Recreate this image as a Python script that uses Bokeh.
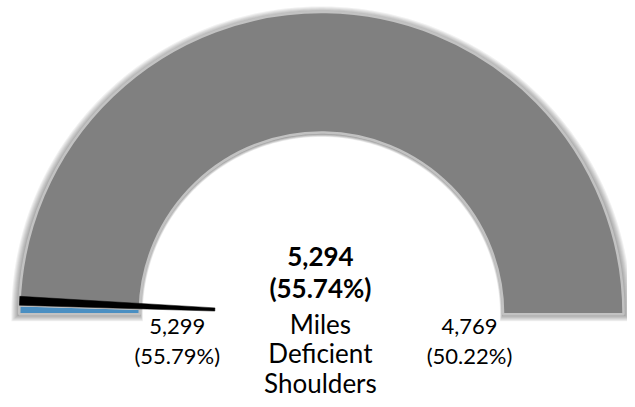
import numpy as np
from bokeh.plotting import figure
from bokeh.models import Range1d
from bokeh.core.properties import value
from bokeh.embed import file_html
from bokeh.resources import INLINE

# ---- data ----
gauge_min_value = 5299      # left end of the gauge
gauge_min_pct = "55.79%"
gauge_max_value = 4769      # right end of the gauge
gauge_max_pct = "50.22%"
current_value = 5294
current_pct = "55.74%"
center_caption = ["Miles", "Deficient", "Shoulders"]

W, H = 627, 399
p = figure(width=W, height=H, output_backend="svg", toolbar_location=None,
           x_range=Range1d(0, 635), y_range=Range1d(0, 407), min_border=0)
p.axis.visible = False
p.grid.visible = False
p.outline_line_color = None
p.background_fill_color = "white"
p.border_fill_color = "white"

cx, cy = 325, 87
R_out, R_in = 306, 184

frac = (gauge_min_value - current_value) / (gauge_min_value - gauge_max_value)
val_angle = np.pi - frac * np.pi
deg = np.pi / 180.0

# soft shadow
for k in range(1, 9):
    th = np.linspace(0, np.pi, 240)
    ox = cx + (R_out + k) * np.cos(th)
    oy = cy + (R_out + k) * np.sin(th)
    ri = R_in - k * 0.4
    ix = cx + ri * np.cos(th[::-1])
    iy = cy + ri * np.sin(th[::-1])
    yb = cy - k * 0.9
    xs = list(ox) + [cx - R_out - k, cx - ri] + list(ix) + [cx + ri, cx + R_out + k]
    ys = list(oy) + [yb, yb] + list(iy) + [yb, yb]
    p.patch(xs, ys, fill_color="black", fill_alpha=0.055, line_color=None)

# gauge segments
p.annular_wedge(x=[cx, cx], y=[cy, cy], inner_radius=R_in, outer_radius=R_out,
                start_angle=[val_angle, 0.0], end_angle=[np.pi, val_angle],
                fill_color=["#4a8fc2", "#808080"],
                line_color="#c2c2c2", line_width=2.5)

# needle
p.annular_wedge(x=[cx], y=[cy], inner_radius=108, outer_radius=R_out,
                start_angle=[val_angle - 1.7 * deg], end_angle=[val_angle],
                fill_color="black", line_color="black", line_width=0.5)

font = value("Lato")
# side labels
p.text(x=[179, 475], y=[407 - 333] * 2,
       text=[f"{gauge_min_value:,}", f"{gauge_max_value:,}"],
       text_font=font, text_font_size="22px", text_align="center",
       text_baseline="alphabetic", text_color="black")
p.text(x=[179, 475], y=[407 - 362] * 2,
       text=[f"({gauge_min_pct})", f"({gauge_max_pct})"],
       text_font=font, text_font_size="22px", text_align="center",
       text_baseline="alphabetic", text_color="black")

# center text
p.text(x=[324, 324], y=[407 - 261, 407 - 293],
       text=[f"{current_value:,}", f"({current_pct})"],
       text_font=font, text_font_size="26px", text_font_style="bold",
       text_align="center", text_baseline="alphabetic", text_color="black")
p.text(x=[324] * 3, y=[407 - 330, 407 - 360, 407 - 390], text=center_caption,
       text_font=font, text_font_size="26px", text_align="center",
       text_baseline="alphabetic", text_color="black")

open("out.html", "w").write(file_html(p, INLINE))
